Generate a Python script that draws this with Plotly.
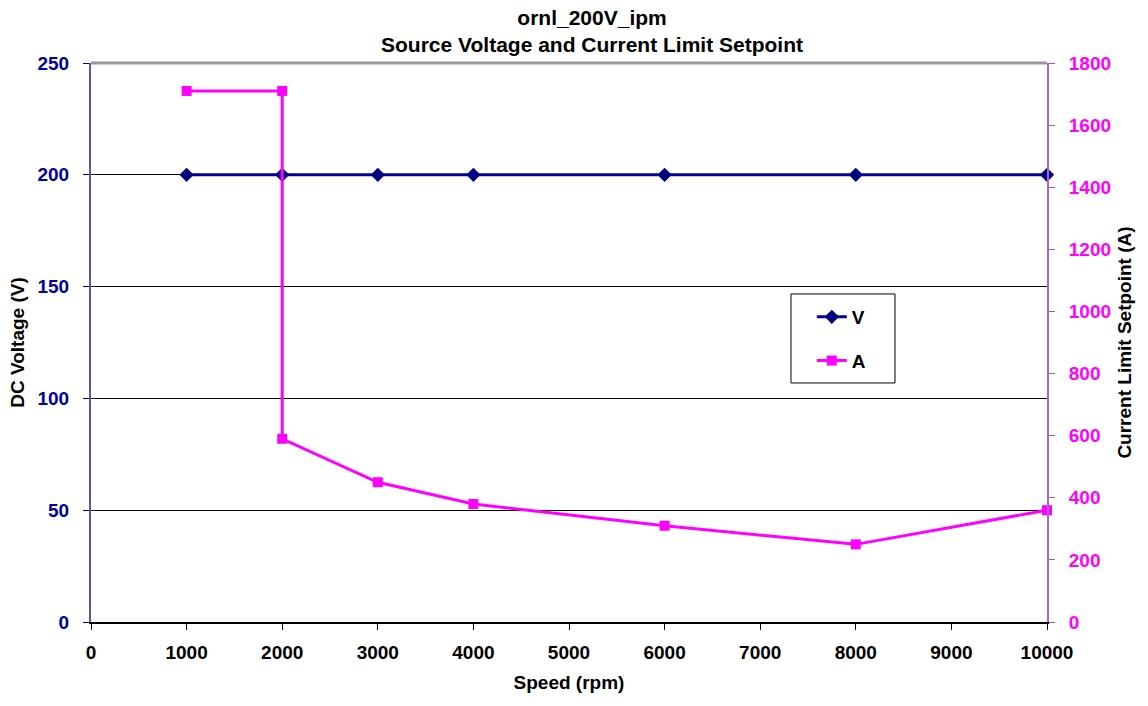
import plotly.graph_objects as go

speed_v = [1000, 2000, 3000, 4000, 6000, 8000, 10000]
volts = [200, 200, 200, 200, 200, 200, 200]
speed_a = [1000, 2000, 2000, 3000, 4000, 6000, 8000, 10000]
amps = [1710, 1710, 590, 450, 380, 310, 250, 360]

x_ticks = list(range(0, 10001, 1000))
x_labels = [str(v) for v in x_ticks]
v_ticks = [0, 50, 100, 150, 200, 250]
a_ticks = list(range(0, 1801, 200))

FONT = "Liberation Sans, Arial, sans-serif"
NAVY = "#000099"
MAG = "#FF00FF"

fig = go.Figure()
fig.add_trace(go.Scatter(
    x=speed_v, y=volts, name="V", mode="lines+markers", legendgroup="v",
    line=dict(color=NAVY, width=3),
    marker=dict(symbol="diamond", size=11, color="#000080"),
    yaxis="y", cliponaxis=False))
fig.add_trace(go.Scatter(
    x=speed_a, y=amps, name="A", mode="lines+markers", legendgroup="a",
    line=dict(color=MAG, width=3),
    marker=dict(symbol="square", size=10, color=MAG),
    yaxis="y2", cliponaxis=False))

bold = dict(family=FONT, size=19, weight="bold")

fig.update_layout(
    width=1148, height=706,
    margin=dict(l=91, r=101, t=63, b=84, autoexpand=False),
    plot_bgcolor="white", paper_bgcolor="white",
    font=dict(family=FONT, size=19, color="black"),
    title=dict(text="ornl_200V_ipm<br>Source Voltage and Current Limit Setpoint",
               x=0.5157, xanchor="center", xref="container",
               y=0.965, yanchor="top", yref="container",
               font=dict(family=FONT, size=21, color="black", weight="bold")),
    xaxis=dict(range=[0, 10000], tickvals=x_ticks, ticktext=x_labels,
               ticks="outside", ticklen=6, tickwidth=1,
               tickcolor="black", showline=True, linecolor="black", linewidth=2,
               showgrid=False, zeroline=False, ticklabelstandoff=6,
               tickfont=dict(bold, color="black"),
               title=dict(text="Speed (rpm)", standoff=14,
                          font=dict(bold, color="black"))),
    yaxis=dict(range=[0, 250], tickvals=v_ticks, ticks="outside", ticklen=6,
               tickcolor=NAVY, showline=True, linecolor="#5555BB", linewidth=2,
               showgrid=True, gridcolor="black", gridwidth=1, zeroline=False,
               ticklabelstandoff=10,
               tickfont=dict(bold, color=NAVY),
               title=dict(text="DC Voltage (V)", standoff=8,
                          font=dict(bold, color="black"))),
    yaxis2=dict(range=[0, 1800], tickvals=a_ticks, ticks="outside", ticklen=6,
                tickcolor="#AA55BB", showline=True, linecolor="#AA66CC", linewidth=2,
                showgrid=False, zeroline=False, overlaying="y", side="right",
                ticklabelstandoff=10,
                tickfont=dict(bold, color=MAG),
                title=dict(text="Current Limit Setpoint (A)", standoff=8,
                           font=dict(bold, color="black"))),
    legend=dict(x=0.754, y=0.5796, xanchor="left", yanchor="top",
                borderwidth=0, bgcolor="rgba(0,0,0,0)",
                font=dict(bold, color="black"),
                tracegroupgap=16),
    showlegend=True,
)

# legend frame
fig.add_shape(type="rect", xref="paper", yref="paper",
              x0=0.7322, x1=0.841, y0=0.4276, y1=0.5868,
              line=dict(color="black", width=1), fillcolor="white", layer="below")
# top plot border
fig.add_shape(type="line", xref="paper", yref="paper", x0=0, x1=1, y0=1, y1=1,
              line=dict(color="#999999", width=3), layer="above")

fig.write_html("out.html", config={"displayModeBar": False},
               post_script="document.body.style.margin='0';")
